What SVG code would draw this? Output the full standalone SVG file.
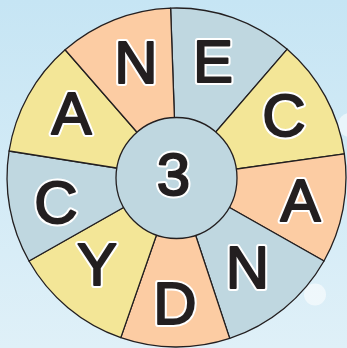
<svg xmlns="http://www.w3.org/2000/svg" width="347" height="348" viewBox="0 0 347 348">
<defs>
<linearGradient id="bg" x1="0" y1="0" x2="0" y2="1">
<stop offset="0" stop-color="#C6E5F4"/>
<stop offset="1" stop-color="#DFF0F8"/>
</linearGradient>
</defs>
<style>
.sec{stroke:#231F20;stroke-width:1.3;stroke-linejoin:round}
.peach{fill:#FCCCA3}
.blue{fill:#BFD7E0}
.yellow{fill:#F3E697}
.halo{font-family:"Liberation Sans",Arial,sans-serif;font-size:60px;text-anchor:middle;fill:#fff;stroke:#fff;stroke-width:6;stroke-linejoin:round}
.ink{font-family:"Liberation Sans",Arial,sans-serif;font-size:60px;text-anchor:middle;fill:#231F20;stroke:#231F20;stroke-width:2;stroke-linejoin:round}
.glow{fill:#fff;opacity:0.55}
</style>
<rect x="0" y="0" width="347" height="348" fill="url(#bg)"/>
<circle class="glow" cx="350" cy="125" r="12"/>
<circle class="glow" cx="315" cy="294.5" r="11"/>
<g id="wheel">
<path id="sector-E" class="sec blue" d="M176.5,177.5 L170.6,8.1 A169.5,169.5 0 0 1 287.25,49.2 Z"/>
<path id="sector-C1" class="sec yellow" d="M176.5,177.5 L287.25,49.2 A169.5,169.5 0 0 1 344.35,153.9 Z"/>
<path id="sector-A1" class="sec peach" d="M176.5,177.5 L344.35,153.9 A169.5,169.5 0 0 1 324,261 Z"/>
<path id="sector-N1" class="sec blue" d="M176.5,177.5 L324,261 A169.5,169.5 0 0 1 229.7,338.4 Z"/>
<path id="sector-D" class="sec peach" d="M176.5,177.5 L229.7,338.4 A169.5,169.5 0 0 1 120.8,337.6 Z"/>
<path id="sector-Y" class="sec yellow" d="M176.5,177.5 L120.8,337.6 A169.5,169.5 0 0 1 29,261 Z"/>
<path id="sector-C2" class="sec blue" d="M176.5,177.5 L29,261 A169.5,169.5 0 0 1 9.1,151 Z"/>
<path id="sector-A2" class="sec yellow" d="M176.5,177.5 L9.1,151 A169.5,169.5 0 0 1 65.1,49.8 Z"/>
<path id="sector-N2" class="sec peach" d="M176.5,177.5 L65.1,49.8 A169.5,169.5 0 0 1 170.6,8.1 Z"/>
</g>
<g id="hub">
<circle class="sec blue" cx="176.5" cy="178" r="60.5"/>
<text class="halo" x="173.5" y="195">3</text>
<text class="ink" x="173.5" y="195">3</text>
</g>
<g id="letter-N-top">
<text class="halo" x="136" y="83">N</text>
<text class="ink" x="136" y="83">N</text>
</g>
<g id="letter-E">
<text class="halo" x="213" y="82">E</text>
<text class="ink" x="213" y="82">E</text>
</g>
<g id="letter-C-right">
<text class="halo" x="284" y="136">C</text>
<text class="ink" x="284" y="136">C</text>
</g>
<g id="letter-A-right">
<text class="halo" x="300.5" y="221">A</text>
<text class="ink" x="300.5" y="221">A</text>
</g>
<g id="letter-N-bottom">
<text class="halo" x="247.5" y="288">N</text>
<text class="ink" x="247.5" y="288">N</text>
</g>
<g id="letter-D">
<text class="halo" x="175" y="324">D</text>
<text class="ink" x="175" y="324">D</text>
</g>
<g id="letter-Y">
<text class="halo" x="97" y="285">Y</text>
<text class="ink" x="97" y="285">Y</text>
</g>
<g id="letter-C-left">
<text class="halo" x="56" y="223">C</text>
<text class="ink" x="56" y="223">C</text>
</g>
<g id="letter-A-left">
<text class="halo" x="71.5" y="134">A</text>
<text class="ink" x="71.5" y="134">A</text>
</g>
</svg>
